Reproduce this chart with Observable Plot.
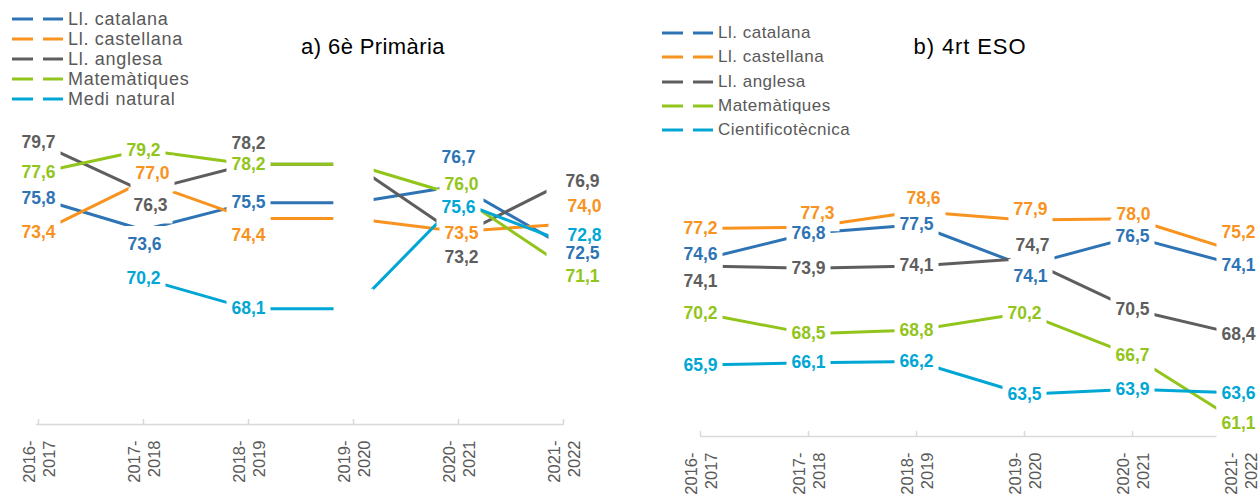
<!DOCTYPE html>
<html>
<head>
<meta charset="utf-8">
<script src="https://cdn.jsdelivr.net/npm/d3@7"></script>
<script src="https://cdn.jsdelivr.net/npm/@observablehq/plot@0.6"></script>
<style>
  body { margin: 0; background: #fff; }
  #root { position: relative; width: 1259px; height: 494px; overflow: hidden; background: #fff; font-family: "Liberation Sans", Arial, sans-serif; }
  .panel { position: absolute; top: 0; }
  .legend { position: absolute; color: #595959; }
  .legend .row { display: flex; align-items: center; white-space: nowrap; }
  .legend svg { display: block; flex: none; }
  .legend span { margin-left: 5px; }
  .title { position: absolute; font-size: 22px; line-height: 1; color: #000; transform: translateX(-50%); white-space: nowrap; letter-spacing: 0.4px; }
</style>
</head>
<body>
<div id="root">
  <div id="chartA" class="panel" style="left:0px"></div>
  <div id="chartB" class="panel" style="left:630px"></div>
  <div id="legA" class="legend" style="left:12px;top:9px;font-size:18px;letter-spacing:0.7px"></div>
  <div id="legB" class="legend" style="left:662px;top:21px;font-size:17px;letter-spacing:0.5px"></div>
  <div class="title" style="left:373px;top:36px">a) 6è Primària</div>
  <div class="title" style="left:970px;top:36px;letter-spacing:0.9px">b) 4rt ESO</div>
</div>
<script>
// ---------- data ----------
const years = ["2016-2017", "2017-2018", "2018-2019", "2019-2020", "2020-2021", "2021-2022"];
const yearTicks = ["2016-\n2017", "2017-\n2018", "2018-\n2019", "2019-\n2020", "2020-\n2021", "2021-\n2022"];

const subjectsA = ["Ll. catalana", "Ll. castellana", "Ll. anglesa", "Matemàtiques", "Medi natural"];
const subjectsB = ["Ll. catalana", "Ll. castellana", "Ll. anglesa", "Matemàtiques", "Cientificotècnica"];
const seriesColors = ["#2E74B5", "#F7931E", "#5E5E5E", "#92C51B", "#00A7D5"];

// a) 6è Primària — 2019-2020: no test, the line keeps the previous value (label hidden)
const a_catalana    = [75.8, 73.6, 75.5, 75.5, 76.7, 72.5];
const a_castellana  = [73.4, 77.0, 74.4, 74.4, 73.5, 74.0];
const a_anglesa     = [79.7, 76.3, 78.2, 78.2, 73.2, 76.9];
const a_matematiques= [77.6, 79.2, 78.2, 78.2, 76.0, 71.1];
const a_medi        = [null, 70.2, 68.1, 68.1, 75.6, 72.8];
const a_labelShown  = [true, true, true, false, true, true];

// b) 4rt ESO
const b_catalana    = [74.6, 76.8, 77.5, 74.1, 76.5, 74.1];
const b_castellana  = [77.2, 77.3, 78.6, 77.9, 78.0, 75.2];
const b_anglesa     = [74.1, 73.9, 74.1, 74.7, 70.5, 68.4];
const b_matematiques= [70.2, 68.5, 68.8, 70.2, 66.7, 61.1];
const b_cientifico  = [65.9, 66.1, 66.2, 63.5, 63.9, 63.6];
const b_labelShown  = [true, true, true, true, true, true];

// ---------- layout (label offsets in px, per series and year) ----------
const a_offsets = [
  [[0,0],[1,14],[0,0],null,[0,-28],[19,8]],
  [[0,0],[9,-8],[0,17],null,[3,2],[21,-18]],
  [[0,0],[7,14],[0,-21],null,[3,22],[19,-1]],
  [[0,0],[0,0],[0,0],null,[3,-11],[19,11]],
  [null,[0,0],[0,0],null,[0,6],[21,-6]]
];
const b_offsets = [
  [[0,-5],[0,0],[0,0],[6,11],[0,0],[-2,0]],
  [[0,0],[9,-14],[7,-13],[6,-11],[1,-4],[-2,-20]],
  [[0,16],[0,0],[0,0],[8,-13],[0,0],[-2,0]],
  [[0,0],[0,0],[0,0],[0,0],[0,0],[-2,0]],
  [[0,0],[0,0],[0,0],[0,0],[0,0],[-2,0]]
];
// labels placed right of the last point get a wider box on their left side
const boxCentered = {draw(context) { context.rect(-22, -18, 44, 36); }};
const boxRight    = {draw(context) { context.rect(-36, -14, 58, 28); }};

const fmt = v => v.toFixed(1).replace(".", ",");

function buildRows(subjects, series, shown, offsets) {
  const rows = [];
  subjects.forEach((s, i) => {
    series[i].forEach((v, j) => {
      rows.push({subject: s, year: years[j], value: v, shown: shown[j], off: offsets[i][j]});
    });
  });
  return rows;
}

function makeChart(subjects, series, shown, offsets, dims) {
  const rows = buildRows(subjects, series, shown, offsets);
  const valid = rows.filter(d => d.value != null);
  const labelled = valid.filter(d => d.shown);
  const yMin = 60, yMax = 80;
  const pxPerUnit = (dims.height - dims.marginTop - dims.marginBottom) / (yMax - yMin);
  const marks = [];
  marks.push(Plot.ruleY([yMin], {stroke: "#D9D9D9", strokeWidth: 1.5}));
  marks.push(Plot.ruleX(years, {x: d => d, y1: yMin, y2: yMin + 5 / pxPerUnit, stroke: "#D9D9D9", strokeWidth: 1.5}));
  marks.push(Plot.axisX({tickSize: 0, tickPadding: dims.tickPadding, tickRotate: -90, label: null,
    tickFormat: d => yearTicks[years.indexOf(d)], fontSize: 16.5, fill: "#595959", lineHeight: 1.2}));
  marks.push(Plot.line(valid, {x: "year", y: "value", z: "subject", stroke: "subject", strokeWidth: 3, strokeLinecap: "butt"}));
  const hidden = valid.filter(d => !d.shown);
  if (hidden.length) marks.push(Plot.dot(hidden, {x: "year", y: "value", symbol: "square", r: 22.5, fill: "white", stroke: "none"}));
  // white label boxes (drawn first, so lines are cut around every label)
  labelled.forEach(d => {
    marks.push(Plot.dot([d], {x: "year", y: "value", symbol: d.off[0] > 15 ? boxRight : boxCentered,
      fill: "white", stroke: "none", dx: d.off[0], dy: d.off[1]}));
  });
  // labels
  labelled.forEach(d => {
    marks.push(Plot.text([d], {x: "year", y: "value", text: d => fmt(d.value), fill: "subject",
      dx: d.off[0], dy: d.off[1], fontSize: 17.5, fontWeight: "bold"}));
  });
  return Plot.plot({
    width: dims.width, height: dims.height,
    marginLeft: dims.marginLeft, marginRight: dims.marginRight,
    marginTop: dims.marginTop, marginBottom: dims.marginBottom,
    style: {fontFamily: "'Liberation Sans', Arial, sans-serif", background: "transparent", overflow: "visible"},
    x: {type: "point", domain: years, padding: 0, label: null},
    y: {domain: [yMin, yMax], axis: null},
    color: {domain: subjects, range: seriesColors},
    marks
  });
}

function makeLegend(el, subjects, rowH) {
  subjects.forEach((s, i) => {
    const row = document.createElement("div");
    row.className = "row";
    row.style.height = rowH + "px";
    row.innerHTML = `<svg width="51" height="6"><line x1="0" x2="21" y1="3" y2="3" stroke="${seriesColors[i]}" stroke-width="3"/><line x1="31" x2="51" y1="3" y2="3" stroke="${seriesColors[i]}" stroke-width="3"/></svg><span>${s}</span>`;
    el.appendChild(row);
  });
}

document.getElementById("chartA").appendChild(makeChart(subjectsA,
  [a_catalana, a_castellana, a_anglesa, a_matematiques, a_medi], a_labelShown, a_offsets,
  {width: 630, height: 494, marginLeft: 36, marginRight: 66, marginTop: 138, marginBottom: 70, tickPadding: 16}));
document.getElementById("chartB").appendChild(makeChart(subjectsB,
  [b_catalana, b_castellana, b_anglesa, b_matematiques, b_cientifico], b_labelShown, b_offsets,
  {width: 629, height: 494, marginLeft: 70, marginRight: 19, marginTop: 194, marginBottom: 58, tickPadding: 16}));

makeLegend(document.getElementById("legA"), subjectsA, 20);
makeLegend(document.getElementById("legB"), subjectsB, 24.3);
</script>
</body>
</html>
